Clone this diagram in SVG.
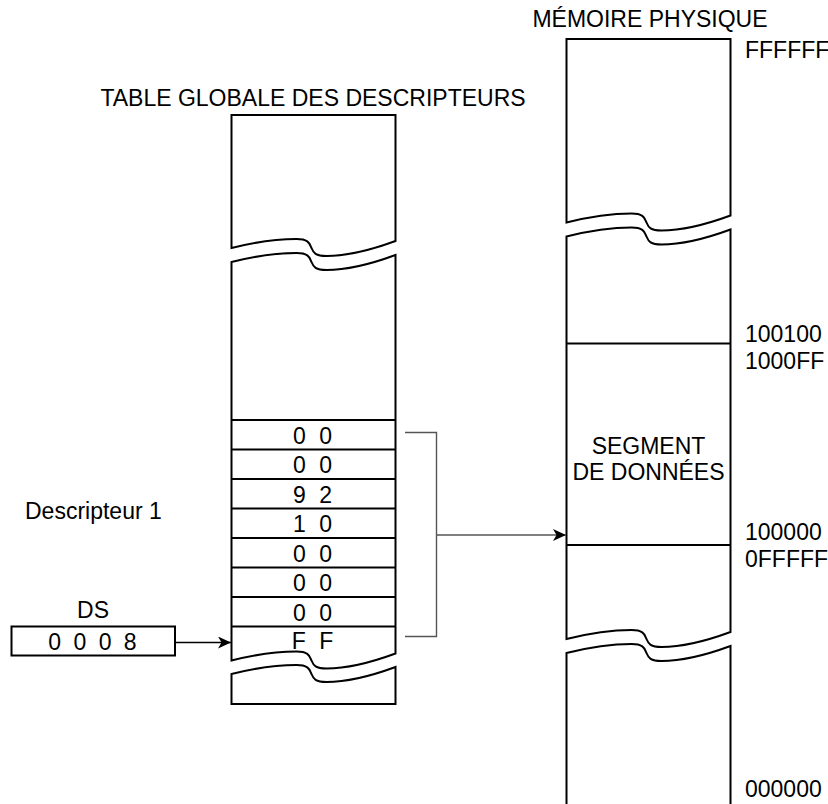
<svg xmlns="http://www.w3.org/2000/svg" width="828" height="804" viewBox="0 0 828 804">
<defs>
<style>
text{font-family:"Liberation Sans",Arial,Helvetica,sans-serif;font-size:23px;fill:#000}
.c{text-anchor:middle}
.v{text-anchor:middle;word-spacing:7px}
.box{fill:#fff;stroke:#000;stroke-width:2;stroke-linejoin:miter}
.row{stroke:#000;stroke-width:2;fill:none}
.con{stroke:#555;stroke-width:1.4;fill:none}
.ar{stroke:#000;stroke-width:1.4;fill:none}
</style>
<marker id="ah" markerUnits="userSpaceOnUse" markerWidth="14" markerHeight="12" viewBox="0 0 14 12" refX="13" refY="6" orient="auto">
<path d="M0,0 L13,6 L0,12 L3.5,6 Z" fill="#000"/>
</marker>
</defs>

<g id="title-gdt"><text class="c" x="313" y="106">TABLE GLOBALE DES DESCRIPTEURS</text></g>
<g id="title-mem"><text class="c" x="650" y="27">MÉMOIRE PHYSIQUE</text></g>

<g id="gdt">
<path class="box" d="M231.5,115 V248 c20,-5 45,-9 65,-9 c13,0 13,5 15,9 c2,5 4,8 15,8 c25,0 50,-8 69,-15 V115 Z"/>
<path class="box" d="M231.5,262 c20,-5 45,-9 65,-9 c13,0 13,5 15,9 c2,5 4,8 15,8 c25,0 50,-8 69,-15 V653.5 c-19,7 -44,15 -69,15 c-11,0 -13,-3 -15,-8 c-2,-4 -2,-9 -15,-9 c-20,0 -45,4 -65,9 Z"/>
<path class="box" d="M231.5,674 c20,-5 45,-9 65,-9 c13,0 13,5 15,9 c2,5 4,8 15,8 c25,0 50,-8 69,-15 V704 H231.5 Z"/>
<g class="row">
<line x1="231.5" y1="420" x2="395.5" y2="420"/>
<line x1="231.5" y1="449.5" x2="395.5" y2="449.5"/>
<line x1="231.5" y1="479" x2="395.5" y2="479"/>
<line x1="231.5" y1="508.5" x2="395.5" y2="508.5"/>
<line x1="231.5" y1="538" x2="395.5" y2="538"/>
<line x1="231.5" y1="567.5" x2="395.5" y2="567.5"/>
<line x1="231.5" y1="597" x2="395.5" y2="597"/>
<line x1="231.5" y1="626.5" x2="395.5" y2="626.5"/>
</g>
<text class="v" x="312.5" y="443.5">0 0</text>
<text class="v" x="312.5" y="473">0 0</text>
<text class="v" x="312.5" y="502.5">9 2</text>
<text class="v" x="312.5" y="532">1 0</text>
<text class="v" x="312.5" y="561.5">0 0</text>
<text class="v" x="312.5" y="591">0 0</text>
<text class="v" x="312.5" y="620.5">0 0</text>
<text class="v" x="312.5" y="649">F F</text>
</g>

<g id="descripteur-label"><text x="25" y="519">Descripteur 1</text></g>

<g id="ds">
<text class="c" x="93" y="618">DS</text>
<rect class="box" x="11.5" y="626.5" width="163.5" height="29"/>
<text class="c" x="92.5" y="649.5" style="word-spacing:6px">0 0 0 8</text>
</g>

<g id="memory">
<path class="box" d="M566.5,39 V222.5 c20,-5 45,-9 65,-9 c13,0 13,5 15,9 c2,5 4,8 15,8 c25,0 50,-8 69,-15 V39 Z"/>
<path class="box" d="M566.5,236.5 c20,-5 45,-9 65,-9 c13,0 13,5 15,9 c2,5 4,8 15,8 c25,0 50,-8 69,-15 V632 c-19,7 -44,15 -69,15 c-11,0 -13,-3 -15,-8 c-2,-4 -2,-9 -15,-9 c-20,0 -45,4 -65,9 Z"/>
<path class="box" d="M566.5,653 c20,-5 45,-9 65,-9 c13,0 13,5 15,9 c2,5 4,8 15,8 c25,0 50,-8 69,-15 V808 H566.5 Z"/>
<line class="row" x1="566.5" y1="343.5" x2="730.5" y2="343.5"/>
<line class="row" x1="566.5" y1="545" x2="730.5" y2="545"/>
<text class="c" x="648.5" y="454">SEGMENT</text>
<text class="c" x="648.5" y="480">DE DONNÉES</text>
</g>

<g id="addresses">
<text x="745" y="58">FFFFFF</text>
<text x="745" y="341.5">100100</text>
<text x="745" y="369">1000FF</text>
<text x="745" y="540">100000</text>
<text x="745" y="567">0FFFFF</text>
<text x="745" y="797">000000</text>
</g>

<g id="connectors">
<path class="con" d="M405,432.5 H436.5 V636.5 H405"/>
<line class="con" x1="436.5" y1="535" x2="566" y2="535" marker-end="url(#ah)"/>
<line class="ar" x1="175" y1="642.5" x2="231" y2="642.5" marker-end="url(#ah)"/>
</g>
</svg>
